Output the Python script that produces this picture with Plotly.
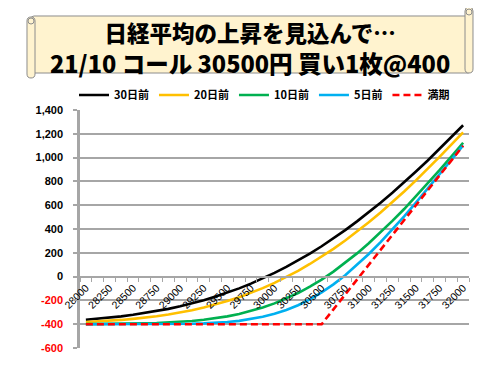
import plotly.graph_objects as go

# ---------------- data ----------------
prices = list(range(28000, 32001, 125))
tick_prices = list(range(28000, 32001, 250))
series_names = ["30日前", "20日前", "10日前", "5日前", "満期"]
pl_30d = [-362, -354, -345, -334, -321, -306, -290, -271, -249, -226, -198, -168, -136, -99, -59, -16,
          31, 81, 136, 194, 255, 322, 391, 464, 541, 621, 705, 792, 883, 976, 1072, 1171, 1272]
pl_20d = [-382, -377, -371, -364, -355, -345, -333, -318, -301, -283, -260, -234, -206, -174, -137, -97,
          -53, -5, 48, 106, 166, 233, 303, 377, 456, 539, 625, 715, 809, 906, 1006, 1109, 1212]
pl_10d = [-399, -399, -398, -397, -396, -393, -390, -386, -380, -373, -363, -350, -334, -314, -289, -260,
          -225, -184, -138, -84, -25, 42, 115, 195, 280, 371, 468, 568, 674, 782, 894, 1008, 1125]
pl_5d = [-400, -400, -400, -400, -400, -400, -399, -399, -398, -396, -393, -389, -382, -372, -358, -338,
         -313, -281, -241, -191, -133, -65, 11, 97, 190, 290, 396, 507, 621, 739, 859, 980, 1103]
pl_exp = [-400, -400, -400, -400, -400, -400, -400, -400, -400, -400, -400, -400, -400, -400, -400, -400,
          -400, -400, -400, -400, -400, -275, -150, -25, 100, 225, 350, 475, 600, 725, 850, 975, 1100]
y_ticks = list(range(-600, 1401, 200))
title_line1 = "日経平均の上昇を見込んで…"
title_line2 = "21/10 コール 30500円 買い1枚@400"

# ---------------- layout helpers (screen pixels; page body has an 8px margin) ----------------
OFF = 8
W, H = 500, 375
PL, PT, PR, PB = 80, 110, 469, 348          # plot area on screen
PW, PH = PR - PL, PB - PT


def px(x):
    return (x - PL) / PW


def py(y):
    return (PB - y) / PH


def rrect(x0, y0, x1, y1, r):
    pts = [
        ("M", [(x0 + r, y0)]), ("L", [(x1 - r, y0)]), ("Q", [(x1, y0), (x1, y0 + r)]),
        ("L", [(x1, y1 - r)]), ("Q", [(x1, y1), (x1 - r, y1)]), ("L", [(x0 + r, y1)]),
        ("Q", [(x0, y1), (x0, y1 - r)]), ("L", [(x0, y0 + r)]), ("Q", [(x0, y0), (x0 + r, y0)]),
    ]
    s = ""
    for cmd, ps in pts:
        s += cmd + " " + " ".join(f"{px(a):.5f},{py(b):.5f}" for a, b in ps) + " "
    return s + "Z"


fill = "#FFF3CF"
edge = "#8C8C8C"
shapes = [
    dict(type="path", xref="paper", yref="paper", path=rrect(31, 16, 471, 73, 3),
         fillcolor=fill, line=dict(color=edge, width=1)),
    dict(type="path", xref="paper", yref="paper", path=rrect(27, 17, 35, 78, 4),
         fillcolor=fill, line=dict(color=edge, width=1)),
    dict(type="path", xref="paper", yref="paper", path=rrect(465, 7, 473, 73, 4),
         fillcolor=fill, line=dict(color=edge, width=1)),
    dict(type="circle", xref="paper", yref="paper", x0=px(28), x1=px(34), y0=py(24), y1=py(18),
         fillcolor=fill, line=dict(color=edge, width=1)),
    dict(type="circle", xref="paper", yref="paper", x0=px(466), x1=px(472), y0=py(15), y1=py(9),
         fillcolor=fill, line=dict(color=edge, width=1)),
]

annotations = [
    dict(text=f'<span style="font-size:22.5px">{title_line1}</span><br>{title_line2}',
         x=px(250), y=py(48), xref="paper", yref="paper", showarrow=False,
         xanchor="center", yanchor="middle", align="center",
         font=dict(family="Noto Sans CJK JP", size=23.5, color="#000000", weight=900)),
]

colors = ["#000000", "#FFC000", "#00B050", "#00B0F0", "#FF0000"]
all_series = [pl_30d, pl_20d, pl_10d, pl_5d, pl_exp]

fig = go.Figure()
for name, vals, col in zip(series_names, all_series, colors):
    fig.add_trace(go.Scatter(
        x=prices, y=vals, name=name, mode="lines",
        line=dict(color=col, width=2.6, dash="7px,4px" if name == "満期" else "solid"),
    ))

y_text = [f'<span style="color:#FF0000">{v}</span>' if v < 0 else f"{v:,}" for v in y_ticks]

grid = "#A6A6A6"
fig.update_layout(
    width=W - OFF, height=H - OFF,
    margin=dict(l=PL - OFF, r=W - PR, t=PT - OFF, b=H - PB, pad=0, autoexpand=False),
    paper_bgcolor="#FFFFFF", plot_bgcolor="#FFFFFF",
    shapes=shapes, annotations=annotations,
    showlegend=True,
    legend=dict(orientation="h", x=px(74), y=py(95), xanchor="left", yanchor="middle",
                font=dict(family="Noto Sans CJK JP", size=11, color="#000000", weight="bold"),
                bgcolor="rgba(0,0,0,0)", itemwidth=30, tracegroupgap=0),
    xaxis=dict(
        range=[prices[0] - 62.5, prices[-1] + 62.5], automargin=False,
        anchor="free", position=py(277),
        tickmode="array", tickvals=tick_prices, ticktext=[str(v) for v in tick_prices],
        tickangle=-45, ticks="", showgrid=False, zeroline=False,
        showline=True, linecolor=grid, linewidth=1.5,
        tickfont=dict(family="Liberation Sans", size=10.5, color="#000000"),
        minor=dict(tickmode="linear", tick0=prices[0] - 62.5, dtick=125, ticks="outside",
                   ticklen=4, tickcolor=grid, tickwidth=1, showgrid=False),
    ),
    yaxis=dict(
        range=[-600, 1400], tickmode="array", tickvals=y_ticks, ticktext=y_text, automargin=False,
        showgrid=True, gridcolor=grid, gridwidth=1.5, zeroline=False,
        showline=True, linecolor=grid, linewidth=2.5,
        ticks="outside", ticklen=4, tickcolor=grid, tickwidth=1.5,
        ticklabelstandoff=8,
        tickfont=dict(family="Liberation Sans", size=11, color="#000000", weight="bold"),
    ),
)

fig.write_html("out.html")
